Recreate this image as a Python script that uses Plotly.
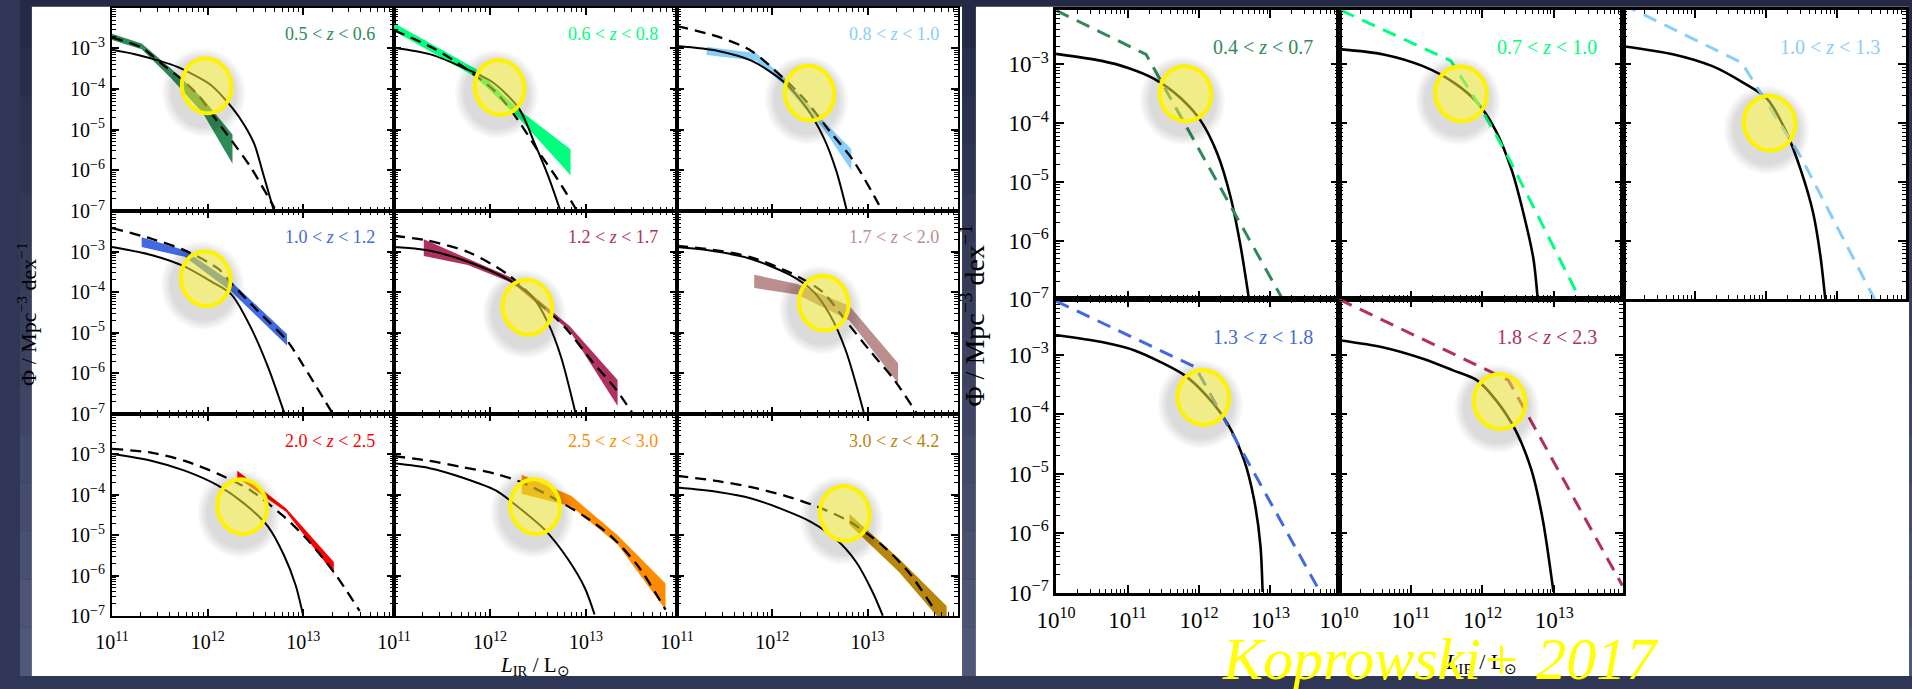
import math
import plotly.graph_objects as go

W, H = 1912, 689

# ---------------------------------------------------------------------------
# Luminosity-function curves, stored as (log10 L_IR/Lsun, log10 Phi) pairs.
# "solid" = reference model curve, "dash" = best fit; band = fit uncertainty.
# ---------------------------------------------------------------------------

# 0.5 < z < 0.6
lf05_solid = [(11.00, -3.03), (11.24, -3.14), (11.49, -3.30), (11.69, -3.46), (11.83, -3.62),
              (12.04, -3.91), (12.26, -4.47), (12.38, -4.87), (12.49, -5.36), (12.58, -6.08),
              (12.69, -6.97)]
lf05_dash = [(11.00, -2.73), (11.31, -2.98), (11.52, -3.38), (11.72, -3.74), (11.90, -4.15),
             (12.10, -4.79), (12.28, -5.36), (12.45, -5.92), (12.70, -6.93)]
lf05_band_L = [11.00, 11.31, 11.62, 11.95, 12.26]
lf05_band_hi = [-2.64, -2.88, -3.50, -4.23, -5.12]
lf05_band_lo = [-2.79, -3.02, -3.74, -4.59, -5.84]

# 0.6 < z < 0.8
lf06_solid = [(11.00, -2.98), (11.37, -3.14), (11.71, -3.46), (12.02, -3.82), (12.30, -4.47),
              (12.47, -5.36), (12.61, -6.16), (12.73, -6.97)]
lf06_dash = [(11.00, -2.55), (11.43, -3.02), (11.75, -3.50), (12.06, -4.07), (12.30, -4.79),
             (12.50, -5.52), (12.71, -6.24), (12.90, -6.97)]
lf06_band_L = [11.00, 11.85, 12.30, 12.84]
lf06_band_hi = [-2.37, -3.50, -4.51, -5.48]
lf06_band_lo = [-2.57, -3.70, -4.71, -6.12]

# 0.8 < z < 1.0
lf08_solid = [(11.00, -2.94), (11.43, -3.06), (11.78, -3.30), (12.12, -3.82), (12.36, -4.47),
              (12.54, -5.20), (12.67, -6.00), (12.78, -6.97)]
lf08_dash = [(11.00, -2.45), (11.43, -2.71), (11.78, -3.06), (12.12, -3.74), (12.36, -4.31),
             (12.60, -5.03), (12.85, -5.76), (13.12, -6.85)]
lf08_band_L = [11.31, 11.83, 12.12, 12.54, 12.83]
lf08_band_hi = [-2.96, -3.12, -3.70, -4.79, -5.48]
lf08_band_lo = [-3.16, -3.30, -3.89, -4.99, -6.00]

# 1.0 < z < 1.2
lf10_solid = [(11.00, -2.89), (11.42, -3.09), (11.76, -3.37), (12.04, -3.74), (12.25, -4.06),
              (12.45, -4.86), (12.63, -5.83), (12.80, -6.96)]
lf10_dash = [(11.00, -2.42), (11.42, -2.69), (11.76, -2.97), (12.11, -3.42), (12.25, -3.78),
             (12.52, -4.45), (12.83, -5.19), (13.00, -5.80), (13.30, -6.96)]
lf10_band_L = [11.31, 11.76, 12.25, 12.83]
lf10_band_hi = [-2.65, -2.97, -3.75, -5.03]
lf10_band_lo = [-2.89, -3.13, -3.99, -5.31]

# 1.2 < z < 1.7
lf12_solid = [(11.00, -2.89), (11.35, -2.97), (11.77, -3.25), (12.19, -3.69), (12.45, -4.13),
              (12.61, -4.78), (12.74, -5.59), (12.89, -6.96)]
lf12_dash = [(11.00, -2.61), (11.35, -2.73), (11.77, -3.01), (12.19, -3.57), (12.49, -4.22),
             (12.78, -4.86), (13.08, -5.75), (13.29, -6.32), (13.48, -6.96)]
lf12_band_L = [11.31, 11.77, 12.23, 12.83, 13.33]
lf12_band_hi = [-2.70, -3.17, -3.65, -4.83, -6.16]
lf12_band_lo = [-3.11, -3.33, -3.77, -4.95, -6.80]

# 1.7 < z < 2.0
lf17_solid = [(11.00, -2.89), (11.33, -2.97), (11.76, -3.17), (12.18, -3.57), (12.43, -3.98),
              (12.60, -4.54), (12.77, -5.43), (12.96, -6.96)]
lf17_dash = [(11.00, -2.86), (11.33, -2.94), (11.76, -3.13), (12.18, -3.51), (12.52, -3.98),
             (12.77, -4.70), (13.02, -5.43), (13.28, -6.16), (13.51, -6.96)]
lf17_band_L = [11.81, 12.26, 12.81, 13.32]
lf17_band_hi = [-3.57, -3.80, -4.34, -5.75]
lf17_band_lo = [-3.90, -4.06, -4.70, -6.24]

# 2.0 < z < 2.5
lf20_solid = [(11.00, -2.99), (11.42, -3.16), (11.76, -3.40), (12.11, -3.77), (12.38, -4.21),
              (12.63, -4.78), (12.80, -5.50), (12.92, -6.23), (13.00, -6.99)]
lf20_dash = [(11.00, -2.86), (11.42, -2.96), (11.76, -3.16), (12.11, -3.48), (12.45, -3.89),
             (12.80, -4.54), (13.04, -5.10), (13.32, -5.91), (13.59, -6.87)]
lf20_band_L = [12.31, 12.82, 13.32]
lf20_band_hi = [-3.40, -4.33, -5.66]
lf20_band_lo = [-3.57, -4.42, -5.95]

# 2.5 < z < 3.0
lf25_solid = [(11.00, -3.22), (11.37, -3.34), (11.71, -3.57), (12.06, -3.89), (12.33, -4.37),
              (12.57, -4.86), (12.81, -5.58), (12.99, -6.31), (13.09, -6.96)]
lf25_dash = [(11.00, -3.04), (11.37, -3.16), (11.71, -3.31), (12.06, -3.48), (12.33, -3.69),
             (12.64, -4.05), (12.99, -4.54), (13.26, -5.02), (13.54, -5.75), (13.83, -6.84)]
lf25_band_L = [12.33, 12.85, 13.33, 13.83]
lf25_band_hi = [-3.50, -4.03, -5.00, -6.19]
lf25_band_lo = [-3.97, -4.29, -5.22, -6.84]

# 3.0 < z < 4.2
lf30_solid = [(11.00, -3.82), (11.43, -3.93), (11.78, -4.09), (12.12, -4.37), (12.40, -4.66),
              (12.67, -5.10), (12.88, -5.66), (13.05, -6.39), (13.16, -6.99)]
lf30_dash = [(11.00, -3.53), (11.43, -3.66), (11.78, -3.81), (12.12, -4.01), (12.47, -4.29),
             (12.81, -4.66), (13.16, -5.26), (13.43, -5.91), (13.71, -6.87)]
lf30_band_L = [12.81, 13.33, 13.83]
lf30_band_hi = [-4.47, -5.58, -6.75]
lf30_band_lo = [-4.74, -5.91, -7.28]

# Koprowski+ 2017 bins (broken power-law fits in colour, reference curve in black)
k04_solid = [(10.00, -2.82), (10.64, -2.94), (11.01, -3.06), (11.38, -3.25), (11.75, -3.58),
             (12.03, -3.97), (12.26, -4.53), (12.44, -5.25), (12.58, -6.08), (12.70, -7.00)]
k04_dash = [(10.00, -2.08), (11.26, -2.83), (13.17, -7.00)]

k07_solid = [(10.00, -2.74), (10.62, -2.83), (11.17, -3.03), (11.60, -3.31), (11.92, -3.64),
             (12.19, -4.14), (12.41, -4.81), (12.57, -5.53), (12.71, -6.31), (12.77, -7.00)]
k07_dash = [(10.03, -2.08), (11.56, -2.94), (11.98, -3.75), (12.36, -4.58), (13.36, -7.00)]

k10_solid = [(10.00, -2.69), (10.71, -2.83), (11.25, -3.03), (11.68, -3.31), (12.01, -3.58),
             (12.28, -4.14), (12.49, -4.81), (12.66, -5.53), (12.76, -6.25), (12.83, -7.00)]
k10_dash = [(10.00, -1.98), (11.66, -2.97), (12.49, -4.58), (13.52, -7.00)]

k13_solid = [(10.00, -2.67), (10.64, -2.79), (11.10, -2.93), (11.47, -3.13), (11.80, -3.35),
             (12.12, -3.71), (12.40, -4.16), (12.63, -4.77), (12.77, -5.43), (12.86, -6.21),
             (12.89, -6.99)]
k13_dash = [(10.00, -2.10), (11.95, -3.21), (13.70, -7.00)]

k18_solid = [(10.00, -2.76), (10.62, -2.88), (11.17, -3.07), (11.60, -3.27), (11.92, -3.43),
             (12.19, -3.77), (12.46, -4.27), (12.68, -4.93), (12.84, -5.77), (12.99, -6.99)]
k18_dash = [(10.00, -2.07), (12.36, -3.43), (13.95, -6.88)]

# Highlight ellipse centres (log10 L, log10 Phi) in each panel
LEFT_HIGHLIGHTS = [(11.99, -3.92), (12.10, -3.96), (12.39, -4.10),
                   (11.98, -3.67), (12.39, -4.37), (12.54, -4.27),
                   (12.36, -4.29), (12.47, -4.29), (12.76, -4.46)]
RIGHT_HIGHLIGHTS = [(11.81, -3.50), (11.70, -3.50), (12.05, -4.00),
                    (12.06, -3.72), (12.24, -3.79)]

LEFT_LABELS = [("0.5", "0.6"), ("0.6", "0.8"), ("0.8", "1.0"),
               ("1.0", "1.2"), ("1.2", "1.7"), ("1.7", "2.0"),
               ("2.0", "2.5"), ("2.5", "3.0"), ("3.0", "4.2")]
LEFT_COLORS = ["#2e8b57", "#00ff7f", "#87cefa", "#4169e1", "#b03060",
               "#bc8f8f", "#ff0000", "#ff8c00", "#b8860b"]
RIGHT_LABELS = [("0.4", "0.7"), ("0.7", "1.0"), ("1.0", "1.3"),
                ("1.3", "1.8"), ("1.8", "2.3")]
RIGHT_COLORS = ["#2e8b57", "#00ff7f", "#87cefa", "#4169e1", "#b03060"]

LEFT_CURVES = [
    (lf05_solid, lf05_dash, (lf05_band_L, lf05_band_hi, lf05_band_lo)),
    (lf06_solid, lf06_dash, (lf06_band_L, lf06_band_hi, lf06_band_lo)),
    (lf08_solid, lf08_dash, (lf08_band_L, lf08_band_hi, lf08_band_lo)),
    (lf10_solid, lf10_dash, (lf10_band_L, lf10_band_hi, lf10_band_lo)),
    (lf12_solid, lf12_dash, (lf12_band_L, lf12_band_hi, lf12_band_lo)),
    (lf17_solid, lf17_dash, (lf17_band_L, lf17_band_hi, lf17_band_lo)),
    (lf20_solid, lf20_dash, (lf20_band_L, lf20_band_hi, lf20_band_lo)),
    (lf25_solid, lf25_dash, (lf25_band_L, lf25_band_hi, lf25_band_lo)),
    (lf30_solid, lf30_dash, (lf30_band_L, lf30_band_hi, lf30_band_lo)),
]
RIGHT_CURVES = [(k04_solid, k04_dash), (k07_solid, k07_dash), (k10_solid, k10_dash),
                (k13_solid, k13_dash), (k18_solid, k18_dash)]

# ---------------------------------------------------------------------------
# Page geometry (pixels)
# ---------------------------------------------------------------------------
LEFT_COLS = [(93, 378), (378, 664), (664, 948)]
LEFT_ROWS = [(8, 215), (215, 422), (422, 628)]
RIGHT_COLS = [(1047, 1333), (1333, 1620), (1620, 1906)]
RIGHT_ROWS = [(10, 305), (305, 604)]
LEFT_XR, LEFT_YR = (11, 13.95), (-7, -2)
RIGHT_XR, RIGHT_YR = (10, 13.96), (-7, -2.07)

SERIF = "Liberation Serif"


def fx(p):
    return p / W


def fy(p):
    return 1 - p / H


def pw(vals):
    return [10 ** v for v in vals]


def sup_label(n):
    s = str(n).replace("-", "\u2212")
    return f"10<sup>{s}</sup>"


def to_pixel(cols, rows, xr, yr, lx, ly):
    px = cols[0] + (lx - xr[0]) / (xr[1] - xr[0]) * (cols[1] - cols[0])
    py = rows[1] - (ly - yr[0]) / (yr[1] - yr[0]) * (rows[1] - rows[0])
    return px, py


fig = go.Figure()
layout = dict(width=W, height=H, margin=dict(l=0, r=0, t=0, b=0),
              paper_bgcolor="#2f3656", plot_bgcolor="white", showlegend=False,
              font=dict(family=SERIF, color="black"))
shapes = []
annotations = []

# slide background: vertical gradient of navy bands
NB = 14
c_top, c_bot = (36, 42, 70), (80, 88, 120)
for i in range(NB):
    t = i / (NB - 1)
    c = tuple(int(round(a + (b - a) * t)) for a, b in zip(c_top, c_bot))
    shapes.append(dict(type="rect", xref="paper", yref="paper", layer="below",
                       x0=0, x1=1, y0=fy(H * (i + 1) / NB), y1=fy(H * i / NB),
                       fillcolor=f"rgb{c}", line=dict(width=0)))
# the two white figure panels
for (x0, x1) in [(12, 952), (966, 1909)]:
    shapes.append(dict(type="rect", xref="paper", yref="paper", layer="below",
                       x0=fx(x0), x1=fx(x1), y0=0, y1=fy(7),
                       fillcolor="white", line=dict(width=0)))


def axis_pair(k, cols, rows, xr, yr, show_x, show_y, style):
    xkey = "xaxis" if k == 1 else f"xaxis{k}"
    ykey = "yaxis" if k == 1 else f"yaxis{k}"
    xref = "x" if k == 1 else f"x{k}"
    yref = "y" if k == 1 else f"y{k}"
    xmaj = list(range(int(xr[0]), 14))
    xmin = [d * 10 ** n for n in range(int(xr[0]), 14) for d in range(2, 10)
            if (d * 10 ** n) < 10 ** xr[1]]
    ymaj = list(range(-7, -2))
    ymin = [d * 10.0 ** n for n in range(-7, -2) for d in range(2, 10)]
    common = dict(type="log", showline=True, linecolor="black", linewidth=style["lw"],
                  mirror="allticks", ticks="inside", ticklen=style["tl"],
                  tickwidth=style["tw"], tickcolor="black", showgrid=False,
                  zeroline=False, fixedrange=True,
                  tickfont=dict(family=SERIF, size=style["fs"], color="black"))
    layout[xkey] = dict(common, domain=[fx(cols[0]), fx(cols[1])], range=list(xr),
                        anchor=yref, tickmode="array", ticklabelstandoff=style["xso"],
                        tickvals=[10 ** n for n in xmaj], ticktext=[sup_label(n) for n in xmaj],
                        showticklabels=show_x,
                        minor=dict(tickmode="array", tickvals=xmin, ticks="inside",
                                   ticklen=style["mtl"], tickwidth=1, tickcolor="black",
                                   showgrid=False))
    layout[ykey] = dict(common, domain=[fy(rows[1]), fy(rows[0])], range=list(yr),
                        anchor=xref, tickmode="array", ticklabelstandoff=style["yso"],
                        tickvals=[10.0 ** n for n in ymaj], ticktext=[sup_label(n) for n in ymaj],
                        showticklabels=show_y,
                        minor=dict(tickmode="array", tickvals=ymin, ticks="inside",
                                   ticklen=style["mtl"], tickwidth=1, tickcolor="black",
                                   showgrid=False))
    return xref, yref


def ellipse_pts(cx, cy, rx, ry, tilt_deg, n=48, reverse=False):
    th = math.radians(tilt_deg)
    pts = []
    for j in range(n):
        t = 2 * math.pi * j / n
        if reverse:
            t = -t
        ex, ey = rx * math.cos(t), ry * math.sin(t)
        X = ex * math.cos(th) - ey * math.sin(th)
        Y = ex * math.sin(th) + ey * math.cos(th)
        pts.append((fx(cx + X), fy(cy - Y)))
    return "M " + " L ".join(f"{a:.5f},{b:.5f}" for a, b in pts) + " Z"


def add_highlight(cx, cy, rx, ry, tilt=10):
    # soft drop shadow as rings around the ellipse, offset down and to the left
    inner = ellipse_pts(cx, cy, rx + 1, ry + 1, tilt, reverse=True)
    for j in range(6):
        g = 8 + 1.8 * j
        outer = ellipse_pts(cx - 3, cy + 7, rx + g, ry + g, tilt)
        shapes.append(dict(type="path", xref="paper", yref="paper", layer="above",
                           path=outer + " " + inner,
                           fillcolor="rgba(50,50,50,0.028)", line=dict(width=0)))
    shapes.append(dict(type="path", xref="paper", yref="paper", layer="above",
                       path=ellipse_pts(cx, cy, rx, ry, tilt),
                       fillcolor="rgba(230,224,50,0.58)",
                       line=dict(color="#fff200", width=4)))


LEFT_STYLE = dict(lw=2, tl=7, tw=1.5, mtl=4, fs=20, xso=7, yso=1)
RIGHT_STYLE = dict(lw=2.5, tl=8, tw=1.5, mtl=4, fs=23, xso=5, yso=0)

k = 0
# ------------------------- left 3x3 figure -------------------------
for i, (solid, dash, band) in enumerate(LEFT_CURVES):
    k += 1
    r, c = divmod(i, 3)
    cols, rows = LEFT_COLS[c], LEFT_ROWS[r]
    xref, yref = axis_pair(k, cols, rows, LEFT_XR, LEFT_YR,
                           show_x=(r == 2), show_y=(c == 0), style=LEFT_STYLE)
    color = LEFT_COLORS[i]
    bl, bhi, blo = band
    fig.add_trace(go.Scatter(x=pw(bl + bl[::-1]), y=pw(bhi + blo[::-1]), fill="toself",
                             fillcolor=color, line=dict(width=0), mode="lines",
                             xaxis=xref, yaxis=yref, hoverinfo="skip"))
    fig.add_trace(go.Scatter(x=pw([p[0] for p in solid]), y=pw([p[1] for p in solid]),
                             mode="lines", line=dict(color="black", width=2, shape="spline",
                                                     smoothing=0.8),
                             xaxis=xref, yaxis=yref, hoverinfo="skip"))
    fig.add_trace(go.Scatter(x=pw([p[0] for p in dash]), y=pw([p[1] for p in dash]),
                             mode="lines", line=dict(color="black", width=2.3, dash="11px,7px",
                                                     shape="spline", smoothing=0.8),
                             xaxis=xref, yaxis=yref, hoverinfo="skip"))
    lo, hi = LEFT_LABELS[i]
    annotations.append(dict(xref="paper", yref="paper", x=fx(cols[1] - 17),
                            y=fy(rows[0] + 27), xanchor="right", yanchor="middle",
                            text=f"{lo} &lt; <i>z</i> &lt; {hi}", showarrow=False,
                            font=dict(family=SERIF, size=18, color=color)))
    cx, cy = to_pixel(cols, rows, LEFT_XR, LEFT_YR, *LEFT_HIGHLIGHTS[i])
    add_highlight(cx, cy, 25, 28)

# ------------------------- right 2x3 figure -------------------------
RIGHT_SLOTS = [(0, 0), (0, 1), (0, 2), (1, 0), (1, 1)]
for i, (solid, dash) in enumerate(RIGHT_CURVES):
    k += 1
    r, c = RIGHT_SLOTS[i]
    cols, rows = RIGHT_COLS[c], RIGHT_ROWS[r]
    xref, yref = axis_pair(k, cols, rows, RIGHT_XR, RIGHT_YR,
                           show_x=(r == 1), show_y=(c == 0), style=RIGHT_STYLE)
    color = RIGHT_COLORS[i]
    fig.add_trace(go.Scatter(x=pw([p[0] for p in solid]), y=pw([p[1] for p in solid]),
                             mode="lines", line=dict(color="black", width=2.6, shape="spline",
                                                     smoothing=0.8),
                             xaxis=xref, yaxis=yref, hoverinfo="skip"))
    fig.add_trace(go.Scatter(x=pw([p[0] for p in dash]), y=pw([p[1] for p in dash]),
                             mode="lines", line=dict(color=color, width=3, dash="14px,9px"),
                             xaxis=xref, yaxis=yref, hoverinfo="skip"))
    lo, hi = RIGHT_LABELS[i]
    annotations.append(dict(xref="paper", yref="paper", x=fx(cols[1] - 24),
                            y=fy(rows[0] + 38), xanchor="right", yanchor="middle",
                            text=f"{lo} &lt; <i>z</i> &lt; {hi}", showarrow=False,
                            font=dict(family=SERIF, size=20, color=color)))
    cx, cy = to_pixel(cols, rows, RIGHT_XR, RIGHT_YR, *RIGHT_HIGHLIGHTS[i])
    add_highlight(cx, cy, 26, 28)

# ------------------------- shared axis titles -------------------------
YTITLE = "\u03a6 / Mpc<sup>\u22123</sup> dex<sup>\u22121</sup>"
XTITLE = "<i>L</i><sub>IR</sub> / L<sub>\u2299</sub>"
annotations += [
    dict(xref="paper", yref="paper", x=fx(7), y=fy(320), text=YTITLE, textangle=-90,
         showarrow=False, xanchor="center", yanchor="middle",
         font=dict(family=SERIF, size=22, color="black")),
    dict(xref="paper", yref="paper", x=fx(520), y=fy(679), text=XTITLE, showarrow=False,
         xanchor="center", yanchor="middle", font=dict(family=SERIF, size=21, color="black")),
    dict(xref="paper", yref="paper", x=fx(963), y=fy(321), text=YTITLE, textangle=-90,
         showarrow=False, xanchor="center", yanchor="middle",
         font=dict(family=SERIF, size=28, color="black")),
    dict(xref="paper", yref="paper", x=fx(1476), y=fy(676), text=XTITLE, showarrow=False,
         xanchor="center", yanchor="middle", font=dict(family=SERIF, size=22, color="black")),
    dict(xref="paper", yref="paper", x=fx(1436), y=fy(672), text="<i>Koprowski+ 2017</i>",
         showarrow=False, xanchor="center", yanchor="middle",
         font=dict(family=SERIF, size=60, color="#ffff00")),
]

layout["shapes"] = shapes
layout["annotations"] = annotations
fig.update_layout(**layout)
fig.write_html("out.html")
